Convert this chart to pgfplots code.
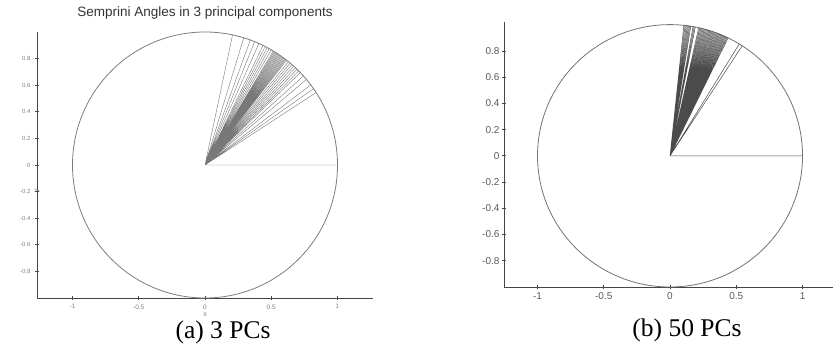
\documentclass[border=0pt]{standalone}
\usepackage{pgfplots}
\pgfplotsset{compat=1.18}
\usepackage{fontspec}
\setmainfont{Liberation Serif}
\newfontfamily\hel{Liberation Sans}
\definecolor{axcol}{RGB}{70,70,70}
\definecolor{circA}{RGB}{125,125,125}
\definecolor{rayA}{RGB}{120,120,120}
\definecolor{circB}{RGB}{115,115,115}
\definecolor{rayB}{RGB}{75,75,75}
\begin{document}
\begin{tikzpicture}[x=1pt,y=1pt]
\useasboundingbox (0,0) rectangle (833,352);
\pgfplotsset{
  myaxis/.style={
    scale only axis,
    axis x line*=bottom, axis y line*=left,
    tick align=center, major tick length=4pt,
    axis line style={axcol, line width=0.8pt},
    every tick/.style={axcol, line width=0.7pt},
    clip=false,
    /pgf/number format/assume math mode=true,
    /pgf/number format/fixed,
    xtick={-1,-0.5,0,0.5,1},
    ytick={-0.8,-0.6,-0.4,-0.2,0,0.2,0.4,0.6,0.8},
  }
}
% ---------------- (a) 3 PCs ----------------
\begin{axis}[myaxis,
  at={(37pt,54pt)}, anchor=south west,
  width=336pt, height=266pt,
  xmin=-1.268, xmax=1.268, ymin=-1, ymax=1,
  xticklabel style={font=\hel\fontsize{6.5}{7}\selectfont, text=gray, yshift=-1pt},
  yticklabel style={font=\hel\fontsize{6}{7}\selectfont, text=gray, xshift=-1pt},
  title={Semprini Angles in 3 principal components},
  title style={font=\hel\fontsize{13.5}{15}\selectfont, text=black!80, at={(axis description cs:0.5,1)}, anchor=base, yshift=9pt},
  xlabel={x}, ylabel={y},
  x label style={font=\hel\fontsize{7}{8}\selectfont, text=gray, at={(axis description cs:0.5,0)}, anchor=center, yshift=-17pt},
  y label style={font=\hel\fontsize{7}{8}\selectfont, text=gray, at={(axis description cs:0,0.5)}, anchor=center, xshift=-26pt},
]
\draw[circA, line width=0.8pt] (axis cs:0,0) ellipse [x radius=1, y radius=1];
\addplot[rayA, line width=0.4pt, line join=round, no marks] coordinates {
(0,0) (1,0)
(0,0) (0.8387,0.5446)
(0,0) (0.8192,0.5736)
(0,0) (0.7986,0.6018)
(0,0) (0.7660,0.6428)
(0,0) (0.7431,0.6691)
(0,0) (0.7193,0.6947)
(0,0) (0.7071,0.7071)
(0,0) (0.6947,0.7193)
(0,0) (0.6820,0.7314)
(0,0) (0.6691,0.7431)
(0,0) (0.6561,0.7547)
(0,0) (0.6428,0.7660)
(0,0) (0.6293,0.7771)
(0,0) (0.6157,0.7880)
(0,0) (0.6088,0.7934)
(0,0) (0.6018,0.7986)
(0,0) (0.5948,0.8039)
(0,0) (0.5878,0.8090)
(0,0) (0.5807,0.8141)
(0,0) (0.5736,0.8192)
(0,0) (0.5664,0.8241)
(0,0) (0.5592,0.8290)
(0,0) (0.5519,0.8339)
(0,0) (0.5446,0.8387)
(0,0) (0.5373,0.8434)
(0,0) (0.5299,0.8480)
(0,0) (0.5225,0.8526)
(0,0) (0.5150,0.8572)
(0,0) (0.5000,0.8660)
(0,0) (0.4848,0.8746)
(0,0) (0.4695,0.8829)
(0,0) (0.4540,0.8910)
(0,0) (0.4384,0.8988)
(0,0) (0.4067,0.9135)
(0,0) (0.3746,0.9272)
(0,0) (0.3420,0.9397)
(0,0) (0.2924,0.9563)
(0,0) (0.2079,0.9781)
(0,0)
};
\end{axis}
% ---------------- (b) 50 PCs ----------------
\begin{axis}[myaxis,
  at={(504pt,65pt)}, anchor=south west,
  width=329pt, height=265pt,
  xmin=-1.253, xmax=1.23, ymin=-1, ymax=1.02,
  xticklabel style={font=\hel\fontsize{10}{11}\selectfont, text=black!65, yshift=0pt},
  yticklabel style={font=\hel\fontsize{10}{11}\selectfont, text=black!65, xshift=1pt},
]
\draw[circB, line width=0.8pt] (axis cs:0,0) ellipse [x radius=1, y radius=1];
\addplot[rayB, line width=0.5pt, line join=round, no marks] coordinates {
(0,0) (1,0)
(0,0) (0.5446,0.8387)
(0,0) (0.5225,0.8526)
(0,0) (0.4384,0.8988)
(0,0) (0.4305,0.9026)
(0,0) (0.4226,0.9063)
(0,0) (0.4147,0.9100)
(0,0) (0.4067,0.9135)
(0,0) (0.3987,0.9171)
(0,0) (0.3907,0.9205)
(0,0) (0.3827,0.9239)
(0,0) (0.3746,0.9272)
(0,0) (0.3665,0.9304)
(0,0) (0.3584,0.9336)
(0,0) (0.3502,0.9367)
(0,0) (0.3420,0.9397)
(0,0) (0.3338,0.9426)
(0,0) (0.3256,0.9455)
(0,0) (0.3173,0.9483)
(0,0) (0.3090,0.9511)
(0,0) (0.3007,0.9537)
(0,0) (0.2924,0.9563)
(0,0) (0.2840,0.9588)
(0,0) (0.2756,0.9613)
(0,0) (0.2672,0.9636)
(0,0) (0.2588,0.9659)
(0,0) (0.2504,0.9681)
(0,0) (0.2419,0.9703)
(0,0) (0.2334,0.9724)
(0,0) (0.2250,0.9744)
(0,0) (0.2164,0.9763)
(0,0) (0.1908,0.9816)
(0,0) (0.1822,0.9833)
(0,0) (0.1736,0.9848)
(0,0) (0.1564,0.9877)
(0,0) (0.1478,0.9890)
(0,0) (0.1392,0.9903)
(0,0) (0.1305,0.9914)
(0,0) (0.1219,0.9925)
(0,0) (0.1132,0.9936)
(0,0) (0.1045,0.9945)
(0,0)
};
\end{axis}
% captions
\node[anchor=base, font=\fontsize{25.5}{28}\selectfont] at (223,13) {(a) 3 PCs};
\node[anchor=base, font=\fontsize{25.5}{28}\selectfont] at (687,15) {(b) 50 PCs};
\end{tikzpicture}
\end{document}
